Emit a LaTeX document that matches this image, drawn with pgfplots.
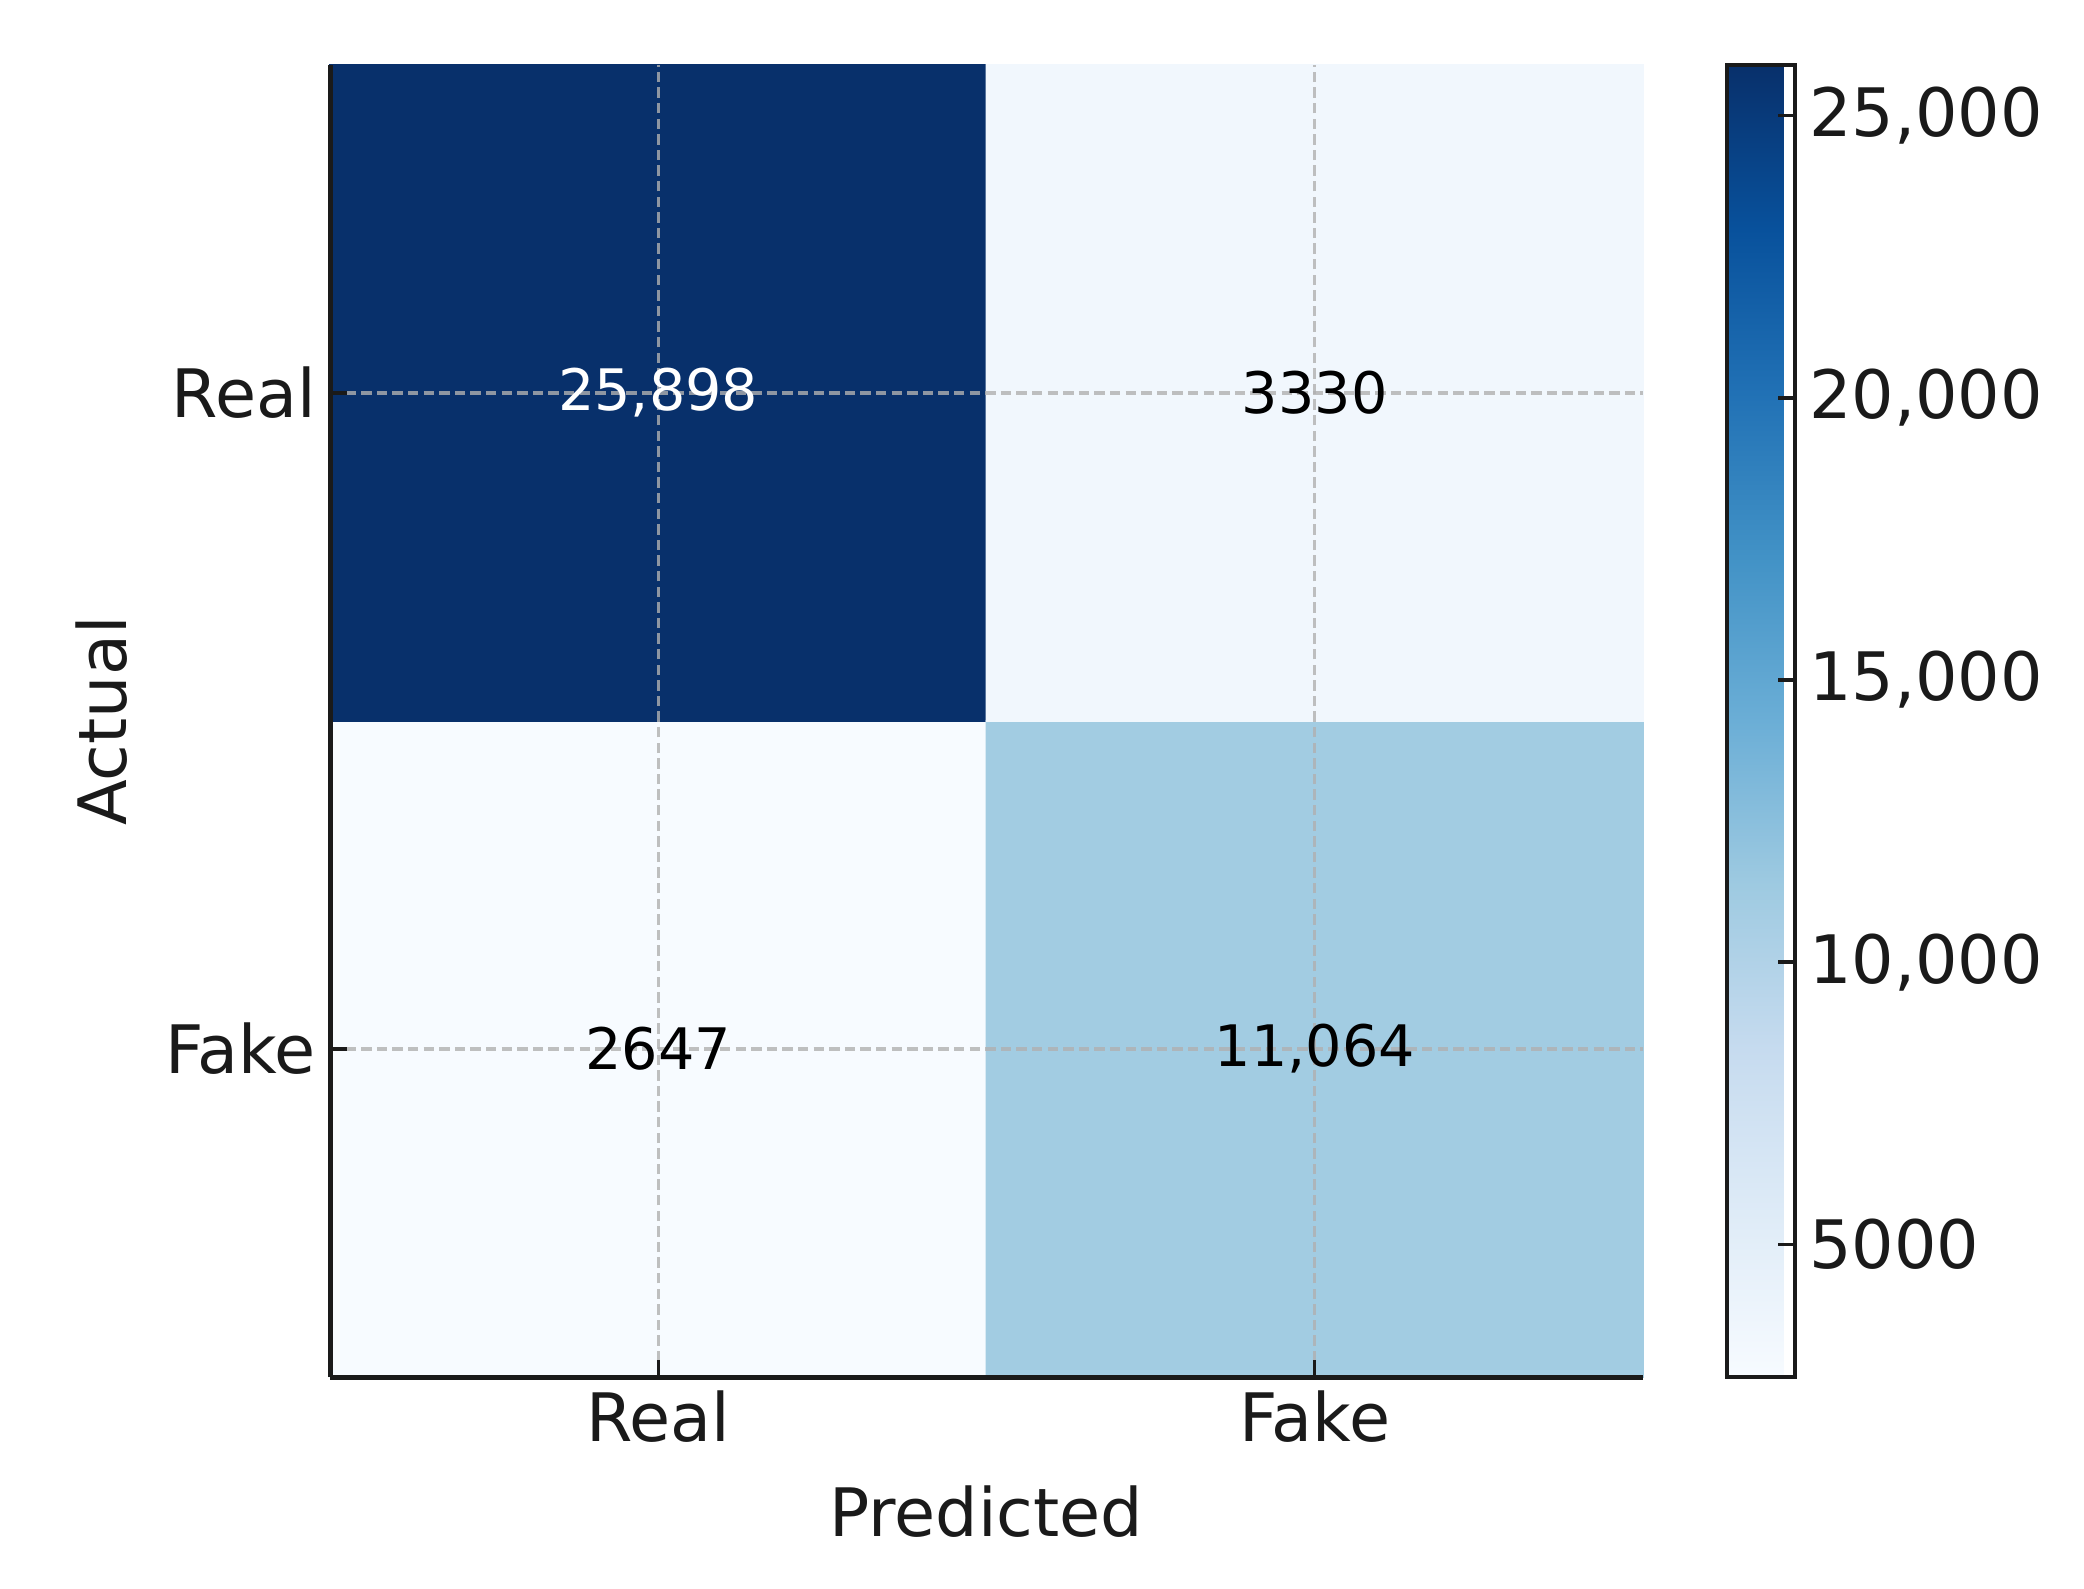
\documentclass[border=0pt]{standalone}
\usepackage{pgfplots}
\pgfplotsset{compat=1.18}
\usepackage{fontspec}
\setmainfont{DejaVu Sans}
\definecolor{ink}{HTML}{1A1A1A}
\definecolor{gridc}{RGB}{176,176,176}
\newcommand\tickfont{\fontsize{16.7}{20}\selectfont}
\newcommand\cellfont{\fontsize{14.3}{17}\selectfont}
\begin{document}
\begin{tikzpicture}
\begin{axis}[
  name=cm,
  set layers,
  scale only axis,
  width=328.25pt, height=328pt,
  xmin=-0.5, xmax=1.5, ymin=-0.5, ymax=1.5,
  enlargelimits=false,
  axis x line*=bottom, axis y line*=left,
  axis line style={ink, line width=1.25pt},
  xtick={0,1}, xticklabels={Real,Fake},
  ytick={0,1}, yticklabels={Fake,Real},
  tick align=inside,
  major tick length=4.2pt,
  tick style={ink, line width=0.85pt},
  ticklabel style={font=\tickfont, text=ink},
  grid=major,
  grid style={gridc, opacity=0.8, line width=0.8pt, dash pattern=on 2.6pt off 1.3pt},
  xlabel={Predicted}, ylabel={Actual},
  label style={font=\tickfont, text=ink},
  xlabel style={at={(axis description cs:0.5,-0.1029)}, anchor=center},
  ylabel style={at={(axis description cs:-0.1737,0.5)}, anchor=center},
  colormap={blues}{rgb255=(247,251,255) rgb255=(222,235,247) rgb255=(198,219,239)
    rgb255=(158,202,225) rgb255=(107,174,214) rgb255=(66,146,198)
    rgb255=(33,113,181) rgb255=(8,81,156) rgb255=(8,48,107)},
  point meta min=2647, point meta max=25898,
  colorbar right,
  colorbar shift/.style={xshift=21pt},
  colorbar style={
    at={(parent axis.north east)}, anchor=north west,
    scale only axis, width=17pt, height=328pt,
    scaled y ticks=false,
    ytick={5000,10000,15000,20000,25000},
    yticklabels={5000,10{,}000,15{,}000,20{,}000,25{,}000},
    ytick pos=right, yticklabel pos=right,
    tick align=inside, major tick length=4.2pt,
    tick style={ink, line width=0.85pt},
    axis line style={ink, line width=1.1pt},
    yticklabel style={font=\tickfont, text=ink},
  },
]
% confusion matrix cells (rows: y=1 Real, y=0 Fake)
\addplot[matrix plot*, mesh/cols=2, point meta=explicit, on layer=axis background]
  table[meta=C] {
x y C
0 0 2647
1 0 11064
0 1 25898
1 1 3330
};
% white count on the dark cell
\addplot[draw=none, mark=none, point meta=explicit symbolic,
  nodes near coords, nodes near coords align=center,
  every node near coord/.append style={font=\cellfont, text=white}]
  table[meta=lab] {
x y lab
0 1 25{,}898
};
% black counts on the light cells
\addplot[draw=none, mark=none, point meta=explicit symbolic,
  nodes near coords, nodes near coords align=center,
  every node near coord/.append style={font=\cellfont, text=black}]
  table[meta=lab] {
x y lab
1 1 3330
0 0 2647
1 0 11{,}064
};
\end{axis}
\path (cm.south west) ++(-82.5pt,-52.75pt) coordinate (bl);
\path (cm.north east) ++(110.25pt,16.25pt) coordinate (tr);
\pgfresetboundingbox
\path (bl) rectangle (tr);
\end{tikzpicture}
\end{document}
